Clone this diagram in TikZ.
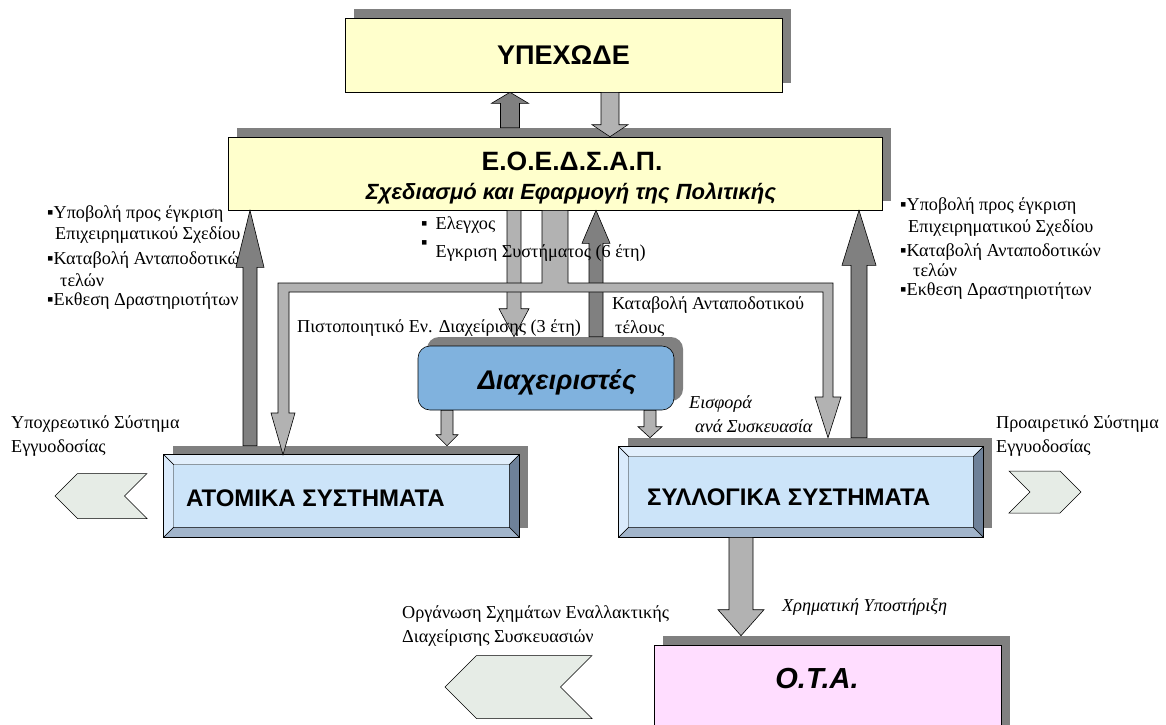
\documentclass[tikz,border=0pt]{standalone}
\usepackage{fontspec}
\setmainfont{Liberation Serif}
\setsansfont{Liberation Sans}
\usepackage{xcolor}
\definecolor{paleYellow}{HTML}{FFFFCC}
\definecolor{shadowGray}{HTML}{808080}
\definecolor{darkArrow}{HTML}{808080}
\definecolor{lightArrow}{HTML}{B2B2B2}
\definecolor{managerBlue}{HTML}{80B2DE}
\definecolor{bevelFace}{HTML}{CCE4F9}
\definecolor{bevelTop}{HTML}{E2EFFC}
\definecolor{bevelLeft}{HTML}{DAEBFC}
\definecolor{bevelRight}{HTML}{6E8199}
\definecolor{bevelBottom}{HTML}{A2B5CB}
\definecolor{chevronFill}{HTML}{E6ECE6}
\definecolor{otaPink}{HTML}{FFDDFF}
\usepackage{tikz}
\usetikzlibrary{
    shapes.symbols,
    shadows,
    calc,
    positioning
}
\tikzset{
    % Solid grey shadow, up and to the right
    shadowed/.style={
        drop shadow={shadow xshift=9pt, shadow yshift=9pt,
            fill=shadowGray, opacity=1},
    },
    % Plain boxes
    plainbox/.style={
        shadowed,
        rectangle,
        draw=black,
        line width=0.6pt,
        fill=paleYellow,
        inner sep=0pt,
    },
    managerbox/.style={
        plainbox,
        rounded corners=12pt,
        fill=managerBlue,
    },
    sysbox/.style={
        plainbox,
        fill=bevelFace,
    },
    otabox/.style={
        plainbox,
        fill=otaPink,
    },
    % Chevrons
    chevron/.style={
        signal,
        signal pointer angle=90,
        draw=black,
        line width=0.5pt,
        fill=chevronFill,
        inner sep=0pt,
    },
    % Texts
    boxtext/.style={
        font=\sffamily\bfseries\fontsize{27}{30}\selectfont,
        inner sep=0pt,
    },
    note/.style={
        font=\fontsize{18.2}{23.5}\selectfont,
        align=left,
        inner sep=0pt,
    },
    % Block arrows: shaft half width, head half width, head length
    block arrow/.style n args={3}{
        draw=black,
        line width=0.6pt,
        to path={let \p1=(\tikztostart), \p2=(\tikztotarget),
            \n1={sign(\y2-\y1)*#3} in
            (\x1-#1,\y1) -- (\x2-#1,\y2-\n1) -- (\x2-#2,\y2-\n1) -- (\x2,\y2)
            -- (\x2+#2,\y2-\n1) -- (\x2+#1,\y2-\n1) -- (\x1+#1,\y1) -- cycle},
    },
    dark arrow/.style n args={3}{block arrow={#1}{#2}{#3}, fill=darkArrow},
    light arrow/.style n args={3}{block arrow={#1}{#2}{#3}, fill=lightArrow},
}
% Bevelled frame on a rectangular node: #1 node, #2 bevel width
\newcommand{\bevelframe}[2]{
    \filldraw[fill=bevelTop, line width=0.4pt] (#1.north west) -- (#1.north east)
        -- ($(#1.north east)+(-#2,#2)$) -- ($(#1.north west)+(#2,#2)$) -- cycle;
    \filldraw[fill=bevelLeft, line width=0.4pt] (#1.north west) -- (#1.south west)
        -- ($(#1.south west)+(#2,-#2)$) -- ($(#1.north west)+(#2,#2)$) -- cycle;
    \filldraw[fill=bevelRight, line width=0.4pt] (#1.north east) -- (#1.south east)
        -- ($(#1.south east)+(-#2,-#2)$) -- ($(#1.north east)+(-#2,#2)$) -- cycle;
    \filldraw[fill=bevelBottom, line width=0.4pt] (#1.south west) -- (#1.south east)
        -- ($(#1.south east)+(-#2,-#2)$) -- ($(#1.south west)+(#2,-#2)$) -- cycle;
    \draw[line width=0.6pt] (#1.north west) rectangle (#1.south east);
}

\begin{document}
\begin{tikzpicture}[x=1pt, y=-1pt]
    \useasboundingbox (0,0) rectangle (1166,724);
    \clip (0,0) rectangle (1166,724);

    % side notes (under the arrows)
    \node[note, anchor=base west] (leftNote) at (47,305)
        {▪Υποβολή προς έγκριση\\[-2pt]\hspace*{8pt}Επιχειρηματικού Σχεδίου\\[1pt]
         ▪Καταβολή Ανταποδοτικών\\[-1pt]\hspace*{13pt}τελών\\[-5pt]▪Εκθεση Δραστηριοτήτων};
    \node[note, anchor=base west] (rightNote) at (900,295)
        {▪Υποβολή προς έγκριση\\[-1pt]\hspace*{8pt}Επιχειρηματικού Σχεδίου\\[0pt]
         ▪Καταβολή Ανταποδοτικών\\[-3pt]\hspace*{13pt}τελών\\[-5pt]▪Εκθεση Δραστηριοτήτων};

    % boxes
    \node[plainbox, minimum width=437pt, minimum height=74pt, boxtext] (ypex) at (563.5,55) {ΥΠΕΧΩΔΕ};
    \node[plainbox, minimum width=654pt, minimum height=73pt] (eoe) at (555,173.5) {};
    \node[managerbox, minimum width=256pt, minimum height=64pt] (diax) at (546,378) {};
    \node[sysbox, minimum width=355pt, minimum height=82pt] (atom) at (341.5,496) {};
    \node[sysbox, minimum width=364pt, minimum height=90pt] (syll) at (801,492) {};
    \node[otabox, minimum width=347pt, minimum height=120pt] (ota) at (827.5,705) {};
    \bevelframe{atom}{10}
    \bevelframe{syll}{10}

    % chevrons
    \node[chevron, signal to=west, signal from=east, minimum width=92pt, minimum height=45pt] (chevLeft) at (101,496) {};
    \node[chevron, signal to=east, signal from=west, minimum width=72pt, minimum height=42pt] (chevRight) at (1045,492) {};
    \node[chevron, signal to=west, signal from=east, minimum width=147pt, minimum height=63pt] (chevBottom) at (518.5,687) {};

    % shadow tops
    \coordinate (eoeTop) at ($(eoe.north)+(0,-9)$);
    \coordinate (diaxTop) at ($(diax.north)+(0,-9)$);
    \coordinate (atomTop) at ($(atom.north)+(0,-9)$);
    \coordinate (syllTop) at ($(syll.north)+(0,-9)$);
    \coordinate (otaTop) at ($(ota.north)+(0,-9)$);

    % arrows
    \draw[dark arrow={9.5pt}{18.5pt}{11pt}] (510,0 |- eoeTop) to (510,0 |- ypex.south);
    \draw[light arrow={9pt}{18pt}{12pt}] (610,0 |- ypex.south) to (610,0 |- eoe.north);
    \draw[dark arrow={7pt}{14pt}{57pt}] (250,0 |- atomTop) to (250,0 |- eoe.south);
    \draw[dark arrow={8pt}{17pt}{55pt}] (859,0 |- syllTop) to (859,0 |- eoe.south);
    \draw[dark arrow={7pt}{14pt}{33pt}] (596,0 |- diaxTop) to (596,0 |- eoe.south);
    \draw[light arrow={7pt}{15pt}{28pt}] (514,0 |- eoe.south) to (514,0 |- diaxTop);
    \draw[line width=0.6pt, fill=lightArrow]
        (542,0 |- eoe.south) -- (542,283) -- (278,283) -- (278,413) -- (271,413)
        -- (283,0 |- atom.north) -- (295,413) -- (289,413) -- (289,292) -- (823,292)
        -- (823,397) -- (815,397) -- (828,0 |- syllTop) -- (841,397) -- (833,397)
        -- (833,283) -- (568,283) -- (568,0 |- eoe.south) -- cycle;
    \draw[light arrow={6pt}{11pt}{11pt}] (447,0 |- diax.south) to (447,0 |- atomTop);
    \draw[light arrow={6pt}{12pt}{11pt}] (650,0 |- diax.south) to (650,0 |- syllTop);
    \draw[light arrow={12pt}{23pt}{26pt}] (741,0 |- syll.south) to (741,0 |- otaTop);

    % box texts
    \node[boxtext, font=\sffamily\bfseries\fontsize{26.5}{30}\selectfont] (eoeTitle) at (572,161) {Ε.Ο.Ε.Δ.Σ.Α.Π.};
    \node[boxtext, font=\sffamily\bfseries\itshape\fontsize{22}{26}\selectfont] (eoeSub) at (571,194)
        {Σχεδιασμό και Εφαρμογή της Πολιτικής};
    \node[boxtext, font=\sffamily\bfseries\itshape\fontsize{27}{30}\selectfont] (diaxText) at (557,382) {Διαχειριστές};
    \node[boxtext, font=\sffamily\bfseries\fontsize{24}{28}\selectfont, anchor=west] (atomText) at (186,498) {ΑΤΟΜΙΚΑ ΣΥΣΤΗΜΑΤΑ};
    \node[boxtext, font=\sffamily\bfseries\fontsize{24}{28}\selectfont, anchor=west] (syllText) at (647,497) {ΣΥΛΛΟΓΙΚΑ ΣΥΣΤΗΜΑΤΑ};
    \node[boxtext, font=\sffamily\bfseries\itshape\fontsize{29}{32}\selectfont] (otaText) at (817,679) {Ο.Τ.Α.};

    % labels on the arrows
    \node[note, anchor=base west] (checkNote) at (421,229) {▪\hspace{8pt}Ελεγχος};
    \node[note, anchor=base west] (approvalNote) at (421,257) {\raisebox{9pt}{▪}\hspace{8pt}Εγκριση Συστήματος (6 έτη)};
    \node[note, anchor=base west] (certNote) at (297,332) {Πιστοποιητικό Εν. Διαχείρισης (3 έτη)};
    \node[note, anchor=base west] (feeNote) at (612,333) {Καταβολή Ανταποδοτικού\\\hspace*{3pt}τέλους};
    \node[note, anchor=base west, font=\itshape\fontsize{18.2}{23.5}\selectfont] (levyNote) at (689,432) {Εισφορά\\\hspace*{6pt}ανά Συσκευασία};
    \node[note, anchor=base west, font=\itshape\fontsize{18.2}{23.5}\selectfont] (fundNote) at (782,611) {Χρηματική Υποστήριξη};
    \node[note, anchor=base west] (mandNote) at (11,452) {Υποχρεωτικό Σύστημα\\Εγγυοδοσίας};
    \node[note, anchor=base west] (optNote) at (996,452) {Προαιρετικό Σύστημα\\Εγγυοδοσίας};
    \node[note, anchor=base west] (altNote) at (402,642) {Οργάνωση Σχημάτων Εναλλακτικής\\Διαχείρισης Συσκευασιών};
\end{tikzpicture}
\end{document}
